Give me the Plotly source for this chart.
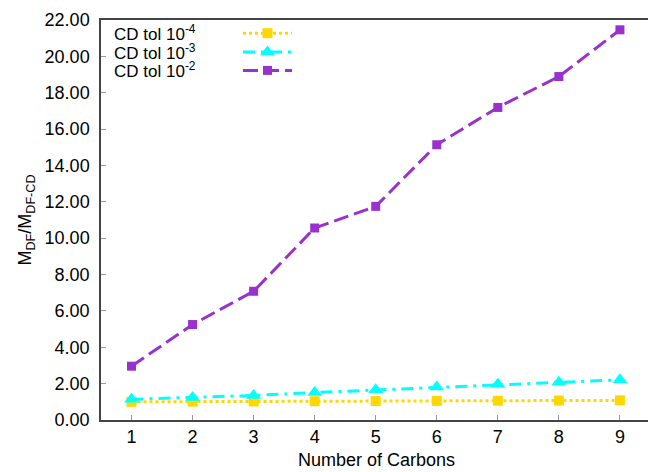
import plotly.graph_objects as go

carbons = [1, 2, 3, 4, 5, 6, 7, 8, 9]
tol_1e4 = [1.00, 1.01, 1.02, 1.03, 1.04, 1.05, 1.06, 1.07, 1.08]
tol_1e3 = [1.14, 1.24, 1.35, 1.51, 1.66, 1.81, 1.96, 2.07, 2.21]
tol_1e2 = [2.96, 5.25, 7.08, 10.56, 11.75, 15.14, 17.19, 18.89, 21.46]
y_ticks = [0, 2, 4, 6, 8, 10, 12, 14, 16, 18, 20, 22]

names = ["CD tol 10<sup>-4</sup>", "CD tol 10<sup>-3</sup>", "CD tol 10<sup>-2</sup>"]
colors = ["#FFD700", "#00FFFF", "#9932CC"]
dashes = ["3px,3px", "12px,6px,3px,6px", "15px,6px"]
symbols = ["square", "triangle-up", "square"]
msizes = [10, 13, 9]
series = [tol_1e4, tol_1e3, tol_1e2]

FONT = "Liberation Sans, Arial, sans-serif"
fig = go.Figure()
for s, n, c, d, sym, ms in zip(series, names, colors, dashes, symbols, msizes):
    fig.add_trace(go.Scatter(x=carbons, y=s, mode="lines+markers", name=n,
                             line=dict(color=c, width=3, dash=d),
                             marker=dict(color=c, symbol=sym, size=ms),
                             showlegend=False))

# custom gnuplot-style legend: text left, sample right (on hidden overlay axes)
leg_y = [0.967, 0.920, 0.874]
for n, c, d, sym, ms, ly in zip(names, colors, dashes, symbols, msizes, leg_y):
    fig.add_trace(go.Scatter(x=[0.0, 0.5, 1.0], y=[ly, ly, ly], mode="lines",
                             line=dict(color=c, width=3, dash=d),
                             xaxis="x2", yaxis="y2", showlegend=False, hoverinfo="skip"))
    fig.add_trace(go.Scatter(x=[0.5], y=[ly], mode="markers",
                             marker=dict(color=c, symbol=sym, size=ms),
                             xaxis="x2", yaxis="y2", showlegend=False, hoverinfo="skip"))
    fig.add_annotation(xref="paper", yref="paper", x=0.02, y=ly, text=n,
                       showarrow=False, xanchor="left", yanchor="middle",
                       font=dict(family=FONT, size=17, color="black"))

# x-axis title placed as annotation near the bottom edge, as in the reference
fig.add_annotation(xref="paper", yref="paper", x=(376 - 101) / 547, y=-0.1,
                   text="Number of Carbons", showarrow=False,
                   xanchor="center", yanchor="middle",
                   font=dict(family=FONT, size=18, color="black"))

fig.update_layout(
    width=648, height=472,
    margin=dict(l=101, r=0, t=20, b=52),
    plot_bgcolor="white", paper_bgcolor="white",
    font=dict(family=FONT, size=18, color="black"),
    xaxis=dict(range=[0.5, 9.46], tickmode="array", tickvals=carbons,
               ticks="inside", ticklen=5, tickcolor="#999999",
               showline=True, linecolor="#444444", linewidth=1.5, mirror=True,
               showgrid=False, zeroline=False, automargin=False),
    yaxis=dict(range=[0, 22], tickmode="array", tickvals=y_ticks,
               ticktext=[f"{v:.2f}" for v in y_ticks],
               ticks="inside", ticklen=5, tickcolor="#999999",
               showline=True, linecolor="#444444", linewidth=1.5,
               showgrid=False, zeroline=False, ticklabelstandoff=6, automargin=False,
               title=dict(text="M<sub>DF</sub>/M<sub>DF-CD</sub>", standoff=8,
                          font=dict(family=FONT, size=18))),
    xaxis2=dict(overlaying="x", anchor="y2",
                range=[(101 - 243) / 49.0, (648 - 243) / 49.0],
                visible=False, fixedrange=True),
    yaxis2=dict(overlaying="y", anchor="x2", range=[0, 1], visible=False, fixedrange=True),
)

fig.write_html("out.html")
